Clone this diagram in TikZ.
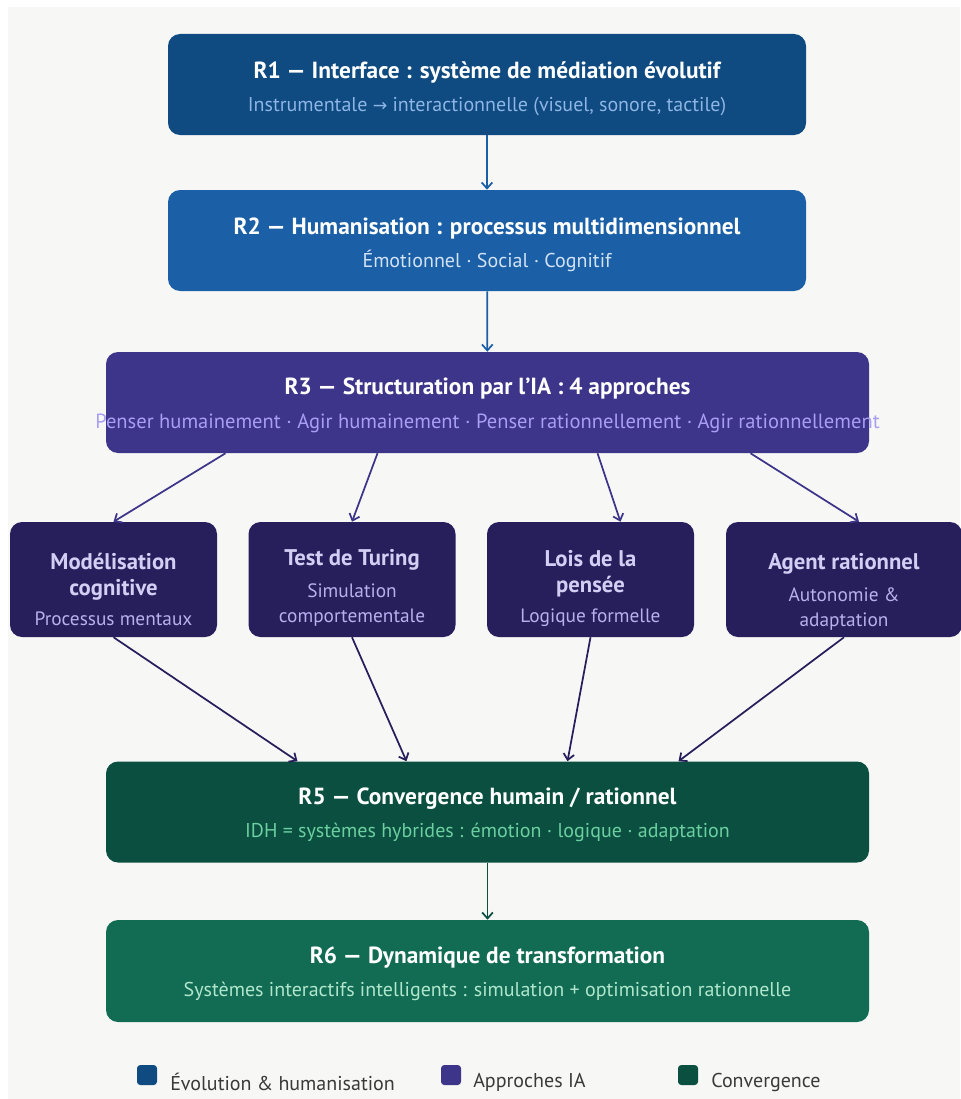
\documentclass[tikz,border=0pt]{standalone}
\usepackage{fontspec}
\setmainfont{PT Sans}
\newfontfamily\symfont{DejaVu Sans}
\usetikzlibrary{arrows.meta,calc}

\definecolor{bgc}{HTML}{F7F7F5}
\definecolor{evoA}{HTML}{0F4A80}
\definecolor{evoAs}{HTML}{8DB5E5}
\definecolor{evoB}{HTML}{1B5FA6}
\definecolor{evoBs}{HTML}{D2E2F5}
\definecolor{appA}{HTML}{3D3589}
\definecolor{appAs}{HTML}{A99FF2}
\definecolor{appB}{HTML}{271F5C}
\definecolor{appBt}{HTML}{D3CEF4}
\definecolor{appBs}{HTML}{B7AFEE}
\definecolor{conA}{HTML}{0A4F40}
\definecolor{conAs}{HTML}{6CCFA0}
\definecolor{conB}{HTML}{126C54}
\definecolor{conBs}{HTML}{B0E6CB}
\definecolor{legtxt}{HTML}{3A3A3A}

\newcommand{\ttl}{\fontsize{17.5}{20}\selectfont\bfseries}
\newcommand{\sttl}{\fontsize{17}{20}\selectfont\bfseries}
% first line with a fixed height, to move the text block down
\newcommand{\firstline}[2]{\rule{0pt}{#1}\smash{#2}}

\begin{document}
\begin{tikzpicture}[x=0.75pt,y=-0.75pt,
    box/.style={rounded corners=9pt, align=center, inner sep=0pt, font=\fontsize{15}{18}\selectfont},
    mid/.style={box, minimum width=478.5pt, minimum height=75.75pt},
    wide/.style={box, minimum width=572.25pt, minimum height=75.75pt},
    small/.style={box, fill=appB, text=appBs, minimum width=155.25pt, minimum height=86.25pt,
      font=\fontsize{14.5}{18.75}\selectfont},
    arr/.style={-{Straight Barb[length=4.5pt,width=8pt]}, line width=1.3pt},
    key/.style={rounded corners=2.5pt, minimum size=15pt, inner sep=0pt},
    keytxt/.style={anchor=west, inner sep=0pt, text=legtxt, font=\fontsize{15}{18}\selectfont}]
  % background
  \fill[white] (0,0) rectangle (960,1099);
  \fill[bgc] (8,7) rectangle (960,1099);
  \useasboundingbox (0,0) rectangle (960,1099);

  % evolution
  \node[mid, fill=evoA] (r1) at (487,84.5)
    {\firstline{19pt}{\ttl\color{white}R1 — Interface : système de médiation évolutif}\\[6.75pt]
     {\color{evoAs}Instrumentale {\symfont\fontsize{13}{15}\selectfont →} interactionnelle (visuel, sonore, tactile)}};
  \node[mid, fill=evoB] (r2) at (487,240.5)
    {\firstline{19pt}{\ttl\color{white}R2 — Humanisation : processus multidimensionnel}\\[6.75pt]
     {\color{evoBs}Émotionnel · Social · Cognitif}};

  % approches
  \node[wide, fill=appA] (r3) at (487.5,402.5)
    {\firstline{17pt}{\ttl\color{white}R3 — Structuration par l'IA : 4 approches}\\[7.5pt]
     \makebox[540pt][c]{\fontsize{15.4}{18}\selectfont\color{appAs}Penser humainement · Agir humainement · Penser rationnellement · Agir rationnellement}};
  \node[small] (m) at (113.5,579.5)
    {\firstline{27pt}{\sttl\color{appBt}Modélisation}\\[0.75pt]{\sttl\color{appBt}cognitive}\\[3.75pt]Processus mentaux};
  \node[small] (t) at (352,579.5)
    {\firstline{25pt}{\sttl\color{appBt}Test de Turing}\\[5.25pt]Simulation\\comportementale};
  \node[small] (l) at (590.5,579.5)
    {\firstline{25pt}{\sttl\color{appBt}Lois de la}\\[0.75pt]{\sttl\color{appBt}pensée}\\[3.75pt]Logique formelle};
  \node[small, minimum width=177pt] (a) at (844,579.5)
    {\firstline{30pt}{\sttl\color{appBt}Agent rationnel}\\[5.25pt]Autonomie \&\\adaptation};

  % convergence
  \node[wide, fill=conA] (r5) at (487.5,812)
    {\firstline{17pt}{\ttl\color{white}R5 — Convergence humain / rationnel}\\[6.75pt]
     {\color{conAs}IDH = systèmes hybrides : émotion · logique · adaptation}};
  \node[wide, fill=conB, minimum height=76.5pt] (r6) at (487.5,971)
    {\firstline{16pt}{\ttl\color{white}R6 — Dynamique de transformation}\\[6.75pt]
     {\color{conBs}Systèmes interactifs intelligents : simulation + optimisation rationnelle}};

  % connectors
  \draw[arr, evoB] (r1) -- (r2);
  \draw[arr, evoB] (r2) -- (r3);
  \draw[arr, appA] ($(r3.south)+(-262,0)$) -- (m.north);
  \draw[arr, appA] ($(r3.south)+(-110,0)$) -- (t.north);
  \draw[arr, appA] ($(r3.south)+(110,0)$) -- ($(l.north)+(30,0)$);
  \draw[arr, appA] ($(r3.south)+(263,0)$) -- ($(a.north)+(15,0)$);
  \draw[arr, appB] (m.south) -- ($(r5.north)+(-190,0)$);
  \draw[arr, appB] (t.south) -- ($(r5.north)+(-81,0)$);
  \draw[arr, appB] (l.south) -- ($(r5.north)+(80,0)$);
  \draw[arr, appB] (a.south) -- ($(r5.north)+(191,0)$);
  \draw[arr, conA] (r5) -- (r6);

  % legend
  \node[key, fill=evoA] (k1) at (147,1075) {};
  \node[keytxt] (k1t) at (170,1082) {Évolution \& humanisation};
  \node[key, fill=appA] (k2) at (451,1075) {};
  \node[keytxt] (k2t) at (473,1082) {Approches IA};
  \node[key, fill=conA] (k3) at (688,1075) {};
  \node[keytxt] (k3t) at (711,1082) {Convergence};
\end{tikzpicture}
\end{document}
